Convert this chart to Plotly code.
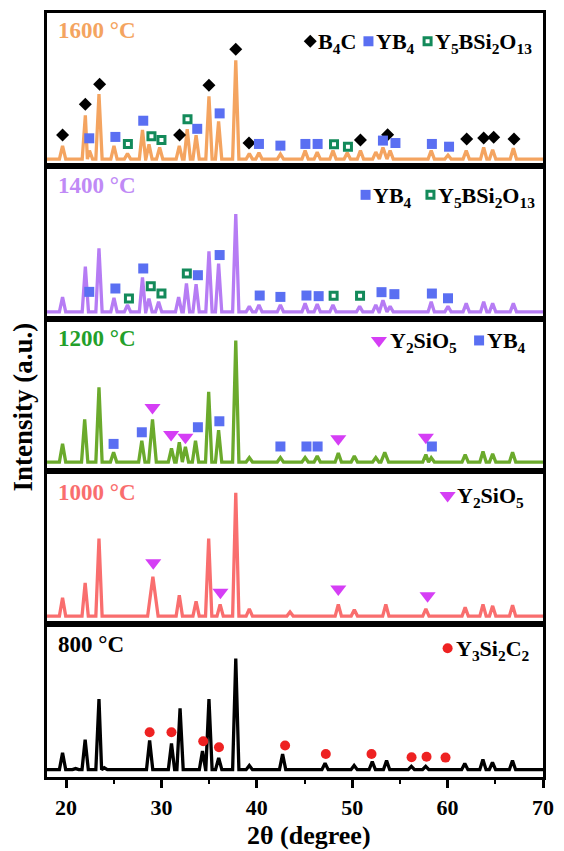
import plotly.graph_objects as go
from plotly.subplots import make_subplots

# ---------------- data ----------------
x_min, x_max = 18, 70
x_ticks = [20, 30, 40, 50, 60, 70]

temps = ["1600 °C", "1400 °C", "1200 °C", "1000 °C", "800 °C"]

# peak positions (2θ) and apex intensities (panel-normalised)
p1600_x = [19.63, 22.02, 22.45, 23.45, 25.02, 26.44, 28.01, 28.69, 29.81, 31.87, 32.70, 33.63, 34.98, 35.99,
           37.79, 39.21, 40.22, 42.47, 45.06, 46.33, 47.98, 49.48, 50.86, 52.47, 53.22, 53.97, 58.28, 60.04,
           61.95, 63.78, 64.72, 66.89]
p1600_y = [0.13, 0.33, 0.10, 0.47, 0.13, 0.08, 0.235, 0.14, 0.12, 0.13, 0.24, 0.20, 0.455, 0.29,
           0.69, 0.08, 0.085, 0.077, 0.10, 0.09, 0.10, 0.085, 0.10, 0.09, 0.12, 0.10, 0.10, 0.07,
           0.10, 0.12, 0.105, 0.115]

p1400_x = [19.63, 22.02, 23.45, 25.02, 26.44, 28.01, 28.69, 29.70, 31.80, 32.62, 33.63, 34.98, 35.99, 37.79,
           39.21, 40.22, 42.47, 45.06, 46.33, 47.98, 50.78, 52.47, 53.22, 53.97, 58.28, 60.04, 61.95, 63.78,
           64.72, 66.89]
p1400_y = [0.14, 0.34, 0.46, 0.135, 0.09, 0.27, 0.13, 0.11, 0.14, 0.23, 0.225, 0.44, 0.36, 0.685,
           0.08, 0.09, 0.09, 0.10, 0.095, 0.09, 0.08, 0.09, 0.12, 0.08, 0.11, 0.08, 0.10, 0.11,
           0.10, 0.10]

p1200_x = [19.63, 21.95, 23.45, 24.98, 27.94, 29.06, 31.05, 31.87, 32.51, 33.57, 34.95, 35.99, 37.79, 39.21,
           42.47, 45.06, 46.33, 48.54, 50.22, 52.47, 53.41, 57.72, 58.28, 61.84, 63.71, 64.72, 66.81]
p1200_y = [0.18, 0.34, 0.55, 0.125, 0.20, 0.34, 0.15, 0.19, 0.16, 0.20, 0.52, 0.27, 0.857, 0.09,
           0.09, 0.09, 0.10, 0.12, 0.10, 0.09, 0.125, 0.11, 0.09, 0.11, 0.13, 0.115, 0.125]

p1000_x = [19.63, 22.00, 23.45, 29.10, 31.87, 33.63, 34.95, 36.15, 37.79, 39.21, 43.48, 48.54, 50.22, 53.52,
           57.72, 61.84, 63.71, 64.72, 66.81]
p1000_y = [0.173, 0.27, 0.56, 0.31, 0.19, 0.15, 0.56, 0.13, 0.86, 0.10, 0.08, 0.13, 0.095, 0.13,
           0.10, 0.11, 0.13, 0.12, 0.125]

p800_x = [19.63, 21.00, 22.00, 23.45, 24.00, 28.76, 31.05, 31.95, 34.30, 34.98, 36.00, 37.79, 39.21, 42.70,
          47.15, 50.20, 52.10, 53.60, 56.20, 57.70, 61.80, 63.70, 64.70, 66.80]
p800_y = [0.158, 0.055, 0.245, 0.51, 0.06, 0.24, 0.22, 0.45, 0.17, 0.51, 0.125, 0.775, 0.075, 0.15,
          0.09, 0.075, 0.10, 0.107, 0.07, 0.07, 0.088, 0.114, 0.096, 0.107]

baselines = [0.044, 0.044, 0.061, 0.053, 0.048]
broad_peaks = [{53.22: 0.55}, {53.22: 0.5}, {29.06: 0.4, 53.41: 0.4}, {29.10: 0.55}, {}]

# phase markers (2θ, panel-normalised height)
b4c_1600_x = [19.63, 22.02, 23.52, 31.90, 34.98, 37.79, 39.18, 50.86, 53.71, 62.00, 63.78, 64.83, 66.96]
b4c_1600_y = [0.202, 0.402, 0.534, 0.202, 0.527, 0.763, 0.149, 0.169, 0.204, 0.176, 0.182, 0.187, 0.176]
yb4_1600_x = [22.43, 25.17, 28.09, 33.75, 36.10, 40.22, 42.47, 45.09, 46.37, 53.22, 54.53, 58.35, 60.15]
yb4_1600_y = [0.18, 0.189, 0.295, 0.242, 0.343, 0.143, 0.132, 0.143, 0.143, 0.165, 0.149, 0.143, 0.125]
y5b_1600_x = [26.48, 28.95, 30.00, 32.73, 48.09, 49.55]
y5b_1600_y = [0.143, 0.193, 0.169, 0.305, 0.141, 0.125]

yb4_1400_x = [22.43, 25.17, 28.09, 33.82, 36.10, 40.30, 42.47, 45.20, 46.48, 53.07, 54.42, 58.35, 60.04]
yb4_1400_y = [0.175, 0.197, 0.328, 0.284, 0.416, 0.151, 0.142, 0.151, 0.147, 0.173, 0.16, 0.164, 0.133]
y5b_1400_x = [26.59, 28.88, 30.00, 32.66, 48.05, 50.82]
y5b_1400_y = [0.131, 0.212, 0.164, 0.295, 0.149, 0.149]

y2s_1200_x = [29.06, 31.01, 32.51, 48.54, 57.72]
y2s_1200_y = [0.419, 0.241, 0.223, 0.213, 0.223]
yb4_1200_x = [24.98, 27.94, 33.82, 36.07, 42.47, 45.20, 46.37, 58.35]
yb4_1200_y = [0.18, 0.256, 0.289, 0.328, 0.163, 0.163, 0.163, 0.163]

y2s_1000_x = [29.14, 36.18, 48.54, 57.90]
y2s_1000_y = [0.402, 0.209, 0.231, 0.187]

y3s_800_x = [28.76, 31.05, 34.38, 36.03, 42.96, 47.23, 52.02, 56.22, 57.79, 59.78]
y3s_800_y = [0.293, 0.293, 0.234, 0.195, 0.206, 0.151, 0.151, 0.129, 0.133, 0.127]

# ---------------- styles ----------------
FONT = "Liberation Serif, Times New Roman, serif"
line_colors = ["#F4A460", "#B67CF4", "#6BAA2C", "#F96E6E", "#000000"]
label_colors = ["#F4A460", "#C08AF6", "#23A02A", "#F96E6E", "#000000"]
C_B4C = "#000000"
C_YB4 = "#5A6FF2"
C_Y5B = "#138A5A"
C_Y2S = "#D53EF5"
C_Y3S = "#EE2222"

STYLE = {
    "B4C": dict(symbol="diamond", size=10, color=C_B4C),
    "YB4": dict(symbol="square", size=10, color=C_YB4),
    "Y5B": dict(symbol="square", size=7, color="white", line=dict(color=C_Y5B, width=3)),
    "Y2S": dict(symbol="triangle-down", size=14, color=C_Y2S),
    "Y3S": dict(symbol="circle", size=10, color=C_Y3S),
}
NAMES = {
    "B4C": "B<sub>4</sub>C",
    "YB4": "YB<sub>4</sub>",
    "Y5B": "Y<sub>5</sub>BSi<sub>2</sub>O<sub>13</sub>",
    "Y2S": "Y<sub>2</sub>SiO<sub>5</sub>",
    "Y3S": "Y<sub>3</sub>Si<sub>2</sub>C<sub>2</sub>",
}

patterns = [(p1600_x, p1600_y), (p1400_x, p1400_y), (p1200_x, p1200_y), (p1000_x, p1000_y), (p800_x, p800_y)]
panel_markers = [
    [("B4C", b4c_1600_x, b4c_1600_y), ("YB4", yb4_1600_x, yb4_1600_y), ("Y5B", y5b_1600_x, y5b_1600_y)],
    [("YB4", yb4_1400_x, yb4_1400_y), ("Y5B", y5b_1400_x, y5b_1400_y)],
    [("Y2S", y2s_1200_x, y2s_1200_y), ("YB4", yb4_1200_x, yb4_1200_y)],
    [("Y2S", y2s_1000_x, y2s_1000_y)],
    [("Y3S", y3s_800_x, y3s_800_y)],
]
# legend layout per panel: (key, marker x, text x) and vertical position
legend_items = [
    [("B4C", 45.6, 46.2), ("YB4", 51.7, 52.3), ("Y5B", 57.9, 58.5)],
    [("YB4", 51.4, 52.0), ("Y5B", 58.2, 58.8)],
    [("Y2S", 52.8, 53.7), ("YB4", 63.3, 63.9)],
    [("Y2S", 60.0, 60.8)],
    [("Y3S", 60.0, 60.7)],
]
legend_y = [0.815, 0.81, 0.857, 0.843, 0.843]
label_shift = [-17, -20, -20, -21, -20]


def profile(px, py, base, broad, hw=0.33):
    xs, ys = [x_min], [base]
    n = len(px)
    for i in range(n):
        p, h = px[i], py[i]
        w = broad.get(p, hw)
        left, right = p - w, p + w
        if i > 0:
            left = max(left, (px[i - 1] + p) / 2)
        if i < n - 1:
            right = min(right, (p + px[i + 1]) / 2)
        xs += [left, p, right]
        ys += [base, h, base]
    xs.append(x_max)
    ys.append(base)
    return xs, ys


fig = make_subplots(rows=5, cols=1, shared_xaxes=True, vertical_spacing=0)

for i in range(5):
    r = i + 1
    xr = "x" if r == 1 else f"x{r}"
    yr = "y" if r == 1 else f"y{r}"
    xs, ys = profile(patterns[i][0], patterns[i][1], baselines[i], broad_peaks[i])
    fig.add_trace(go.Scatter(x=xs, y=ys, mode="lines", line=dict(color=line_colors[i], width=3.3),
                             showlegend=False, hoverinfo="skip"), row=r, col=1)
    for key, mx, my in panel_markers[i]:
        fig.add_trace(go.Scatter(x=mx, y=my, mode="markers", marker=STYLE[key], showlegend=False,
                                 cliponaxis=False), row=r, col=1)
    # legend glyphs + names
    for key, gx, tx in legend_items[i]:
        fig.add_trace(go.Scatter(x=[gx], y=[legend_y[i]], mode="markers", marker=STYLE[key],
                                 showlegend=False, cliponaxis=False), row=r, col=1)
        fig.add_annotation(x=tx, y=legend_y[i], xref=xr, yref=yr, text="<b>" + NAMES[key] + "</b>",
                           showarrow=False, xanchor="left", yanchor="middle", yshift=-2,
                           font=dict(family=FONT, size=22, color="black"))
    fig.add_annotation(x=0.018, y=1, xref="paper", yref=yr + " domain",
                       yshift=label_shift[i], text="<b>" + temps[i] + "</b>", showarrow=False,
                       xanchor="left", yanchor="middle",
                       font=dict(family=FONT, size=23, color=label_colors[i]))

for i in range(5):
    r = i + 1
    fig.update_yaxes(range=[0, 1], showticklabels=False, ticks="", showgrid=False, zeroline=False,
                     showline=True, linewidth=3, linecolor="black", mirror=True, fixedrange=True,
                     row=r, col=1)
    fig.update_xaxes(range=[x_min, x_max], showgrid=False, zeroline=False, showline=True, linewidth=3,
                     linecolor="black", mirror=True, row=r, col=1,
                     ticks="" if r < 5 else "outside", showticklabels=(r == 5))

fig.update_xaxes(row=5, col=1, tickvals=x_ticks, ticklen=8, tickwidth=2.5, tickcolor="black",
                 ticklabelstandoff=1,
                 tickfont=dict(family=FONT, size=22, color="black", weight="bold"),
                 minor=dict(dtick=5, tick0=0, ticks="outside", ticklen=4, tickwidth=2, tickcolor="black"))

fig.add_annotation(x=(313 - 47) / 503, y=-0.0965, xref="paper", yref="paper", text="<b>2θ (degree)</b>",
                   showarrow=False, xanchor="center", yanchor="bottom", borderpad=0,
                   font=dict(family=FONT, size=26, color="black"))
fig.add_annotation(x=-0.048, y=0.484, xref="paper", yref="paper", text="<b>Intensity (a.u.)</b>",
                   showarrow=False, textangle=-90, xanchor="center", yanchor="middle",
                   font=dict(family=FONT, size=27, color="black"))

fig.update_layout(width=564, height=851, margin=dict(l=47, r=14, t=10, b=74),
                  plot_bgcolor="white", paper_bgcolor="white", showlegend=False)

fig.write_html("out.html", config={"displayModeBar": False},
               post_script="document.body.style.margin='0';document.body.style.overflow='hidden';")
